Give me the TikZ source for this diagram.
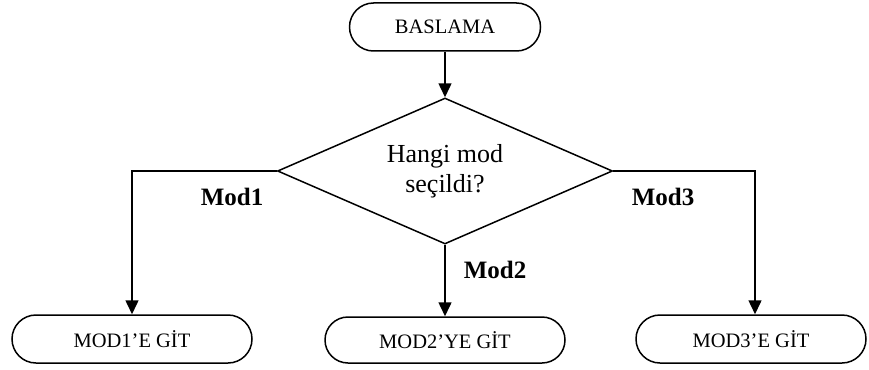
\documentclass[tikz,border=0pt]{standalone}
\usepackage{fontspec}
\setmainfont{Liberation Serif}
\usetikzlibrary{arrows.meta,shapes.geometric,shapes.misc}
\begin{document}
\begin{tikzpicture}[x=1pt,y=-1pt,
  line width=1.5pt,
  terminal/.style={draw, rounded rectangle, minimum height=48pt,
    inner sep=0pt, font=\fontsize{20.5}{24}\selectfont},
  decision/.style={draw, diamond, aspect=2.29, minimum width=335pt, minimum height=146pt,
    inner sep=0pt, align=center, font=\fontsize{26}{30}\selectfont},
  choice/.style={font=\fontsize{25}{30}\selectfont\bfseries},
  flow/.style={-{Triangle[length=14pt,width=13pt]}}]
\useasboundingbox (0,0) rectangle (869,369);

\node[terminal, minimum width=191pt] (start) at (445,27) {BASLAMA};
\node[decision] (dia) at (445,171) {Hangi mod\\seçildi?};
\node[terminal, minimum width=240pt] (m1) at (132,339) {MOD1’E GİT};
\node[terminal, minimum width=240pt, minimum height=46pt] (m2) at (445,340) {MOD2’YE GİT};
\node[terminal, minimum width=230pt] (m3) at (751,339) {MOD3’E GİT};

\node[choice] (l1) at (232,197) {Mod1};
\node[choice] (l2) at (495,270) {Mod2};
\node[choice] (l3) at (663,197) {Mod3};

\draw[flow] (start.south) -- (dia.north);
\draw[flow] (dia.west) -| (m1.north);
\draw[flow] (dia.south) -- (m2.north);
\draw[flow] (dia.east) -| ([xshift=4pt]m3.north);
\end{tikzpicture}
\end{document}
